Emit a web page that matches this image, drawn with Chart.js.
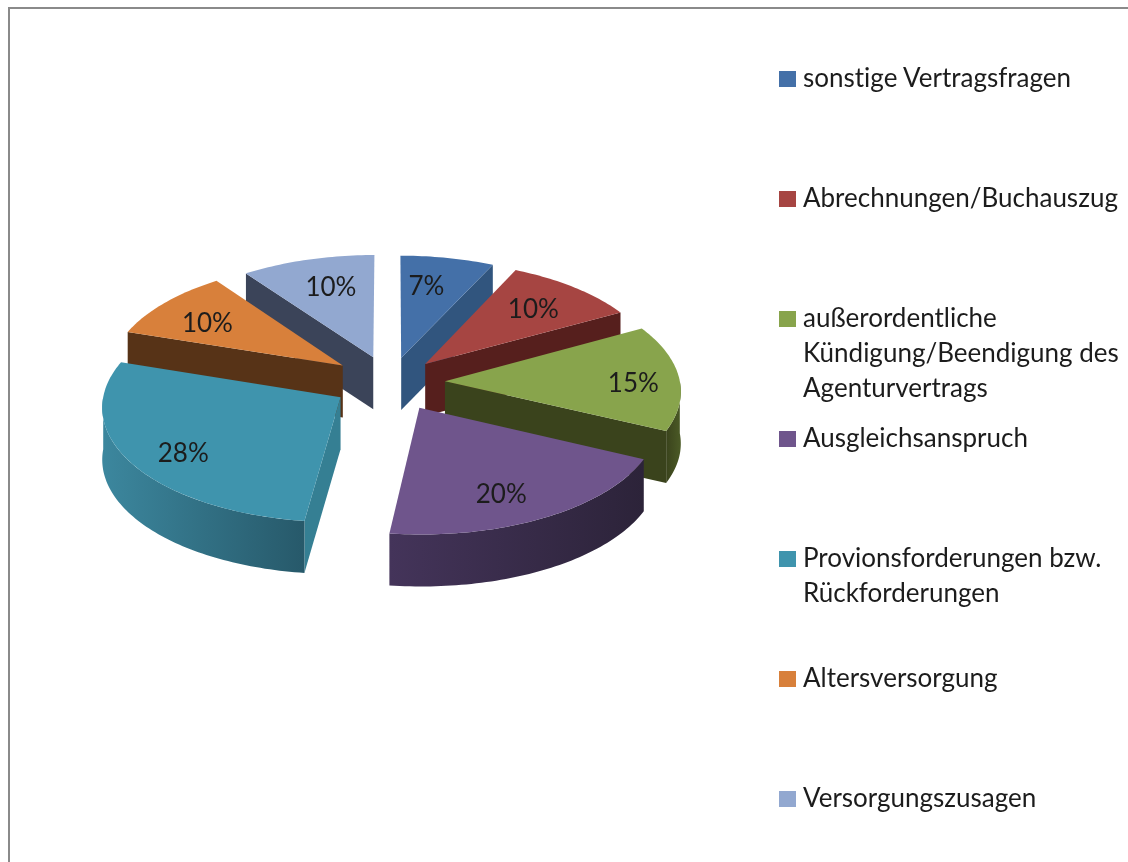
<!DOCTYPE html>
<html lang="de">
<head>
<meta charset="utf-8">
<title>Vertragsfragen</title>
<script src="https://cdn.jsdelivr.net/npm/chart.js@4"></script>
<style>
  html, body { margin: 0; padding: 0; background: #fff; overflow: hidden; }
  #page { position: relative; width: 1128px; height: 862px; overflow: hidden; filter: blur(0.5px); }
  #frame { position: absolute; left: 8px; top: 7px; width: 1300px; height: 1000px; border: 2.5px solid #8a8a8a; }
  canvas { position: absolute; left: 0; top: 0; }
  #legend { position: absolute; left: 0; top: 0; font-family: Lato, "Open Sans", sans-serif; font-size: 26px; line-height: 35px; color: #1c1c1c; font-variant-ligatures: none; }
  .item { position: absolute; left: 803px; white-space: pre; }
  .swatch { position: absolute; left: 779px; width: 17px; height: 16px; }
</style>
</head>
<body>
<div id="page">
  <div id="frame"></div>
  <canvas id="pieChart" width="1128" height="862"></canvas>
  <div id="legend"></div>
</div>
<script>
// Daten
const categories = [
  "sonstige Vertragsfragen",
  "Abrechnungen/Buchauszug",
  "außerordentliche\nKündigung/Beendigung des\nAgenturvertrags",
  "Ausgleichsanspruch",
  "Provionsforderungen bzw.\nRückforderungen",
  "Altersversorgung",
  "Versorgungszusagen",
];
const shares = [7, 10, 15, 20, 28, 10, 10];

// Farben
const topColors = ["#4470a8", "#a64542", "#88a44c", "#6f558c", "#3f94ad", "#d8803b", "#92a8d0"];
const sideColors = ["#31557e", "#561f1d", "#3a431c", "#2c2339", "#357f93", "#573317", "#3b4459"];
const wallLeft = ["#31557e", "#561f1d", "#3a431c", "#44345a", "#3c879e", "#573317", "#3b4459"];
const wallRight = ["#31557e", "#561f1d", "#4b5a26", "#2c2339", "#27596a", "#573317", "#3b4459"];

// Geometrie der 3D-Ansicht
const explode = [52, 52, 55, 60, 58, 59, 55];
const labelFrac = [0.66, 0.66, 0.8, 0.8, 0.8, 0.66, 0.66];
const labelDx = [-6, 8, 1, -17, 10, -16, 2];
const labelDy = [-4, -3, 5, 0, 5, 0, -4];
const tilt = 0.482;
const persp = 0.000316;
const depth = 52;

function project(el, px, py) {
  const s = 1 / (1 - persp * py);
  return [el.x + px * s, el.y + tilt * py * s];
}

function slicePoint(el, angle, radius) {
  const mid = (el.startAngle + el.endAngle) / 2;
  const o = el.options.offset;
  return project(el, o * Math.cos(mid) + radius * Math.cos(angle), o * Math.sin(mid) + radius * Math.sin(angle));
}

function arcPoints(el, from, to) {
  const pts = [];
  const steps = Math.max(2, Math.ceil((to - from) / 0.02));
  for (let i = 0; i <= steps; i++) {
    pts.push(slicePoint(el, from + ((to - from) * i) / steps, el.outerRadius));
  }
  return pts;
}

function fillPath(ctx, pts, fill) {
  ctx.beginPath();
  pts.forEach((p, i) => (i ? ctx.lineTo(p[0], p[1]) : ctx.moveTo(p[0], p[1])));
  ctx.closePath();
  ctx.fillStyle = fill;
  ctx.fill();
}

function drawSide(ctx, el, angle, fill) {
  const a = slicePoint(el, 0, 0);
  const b = slicePoint(el, angle, el.outerRadius);
  fillPath(ctx, [a, b, [b[0], b[1] + depth], [a[0], a[1] + depth]], fill);
}

// Zeichnet die Tortenstuecke aus den Arc-Elementen von Chart.js
const pie3d = {
  id: "pie3d",
  beforeDatasetsDraw(chart) {
    const ctx = chart.ctx;
    const arcs = chart.getDatasetMeta(0).data.map((el, i) => ({ el, i }));
    arcs.sort((p, q) => Math.sin((p.el.startAngle + p.el.endAngle) / 2) - Math.sin((q.el.startAngle + q.el.endAngle) / 2));
    arcs.forEach(({ el, i }) => {
      if (-Math.cos(el.startAngle) > 0) drawSide(ctx, el, el.startAngle, sideColors[i]);
      if (Math.cos(el.endAngle) > 0) drawSide(ctx, el, el.endAngle, sideColors[i]);

      const from = Math.max(el.startAngle, 0);
      const to = Math.min(el.endAngle, Math.PI);
      if (to > from) {
        const edge = arcPoints(el, from, to);
        const lower = edge.map((p) => [p[0], p[1] + depth]).reverse();
        const xs = edge.map((p) => p[0]);
        const grad = ctx.createLinearGradient(Math.min(...xs), 0, Math.max(...xs), 0);
        grad.addColorStop(0, wallLeft[i]);
        grad.addColorStop(1, wallRight[i]);
        fillPath(ctx, edge.concat(lower), grad);
      }

      fillPath(ctx, [slicePoint(el, 0, 0)].concat(arcPoints(el, el.startAngle, el.endAngle)), topColors[i]);
    });

    // Prozentwerte
    ctx.font = '26px Lato, "Open Sans", sans-serif';
    ctx.fillStyle = "#1c1c1c";
    ctx.textAlign = "center";
    ctx.textBaseline = "middle";
    chart.getDatasetMeta(0).data.forEach((el, i) => {
      const mid = (el.startAngle + el.endAngle) / 2;
      const p = slicePoint(el, mid, el.outerRadius * labelFrac[i]);
      ctx.fillText(shares[i] + "%", p[0] + labelDx[i], p[1] + labelDy[i]);
    });
    return false;
  },
};

var ctx1 = document.getElementById("pieChart").getContext("2d");
var pieChart = new Chart(ctx1, {
  type: "pie",
  data: {
    labels: categories,
    datasets: [
      {
        data: shares,
        backgroundColor: topColors,
        offset: explode,
        borderWidth: 0,
      },
    ],
  },
  options: {
    responsive: false,
    animation: false,
    radius: 235,
    layout: { padding: { right: 348, bottom: 98 } },
    plugins: { legend: { display: false }, tooltip: { enabled: false } },
  },
  plugins: [pie3d],
});

// Legende
const legend = document.getElementById("legend");
categories.forEach((name, i) => {
  const top = 60 + i * 120;
  const swatch = document.createElement("div");
  swatch.className = "swatch";
  swatch.style.top = top + 11 + "px";
  swatch.style.background = topColors[i];
  legend.appendChild(swatch);
  const item = document.createElement("div");
  item.className = "item";
  item.style.top = top + "px";
  item.textContent = name;
  legend.appendChild(item);
});
</script>
</body>
</html>
